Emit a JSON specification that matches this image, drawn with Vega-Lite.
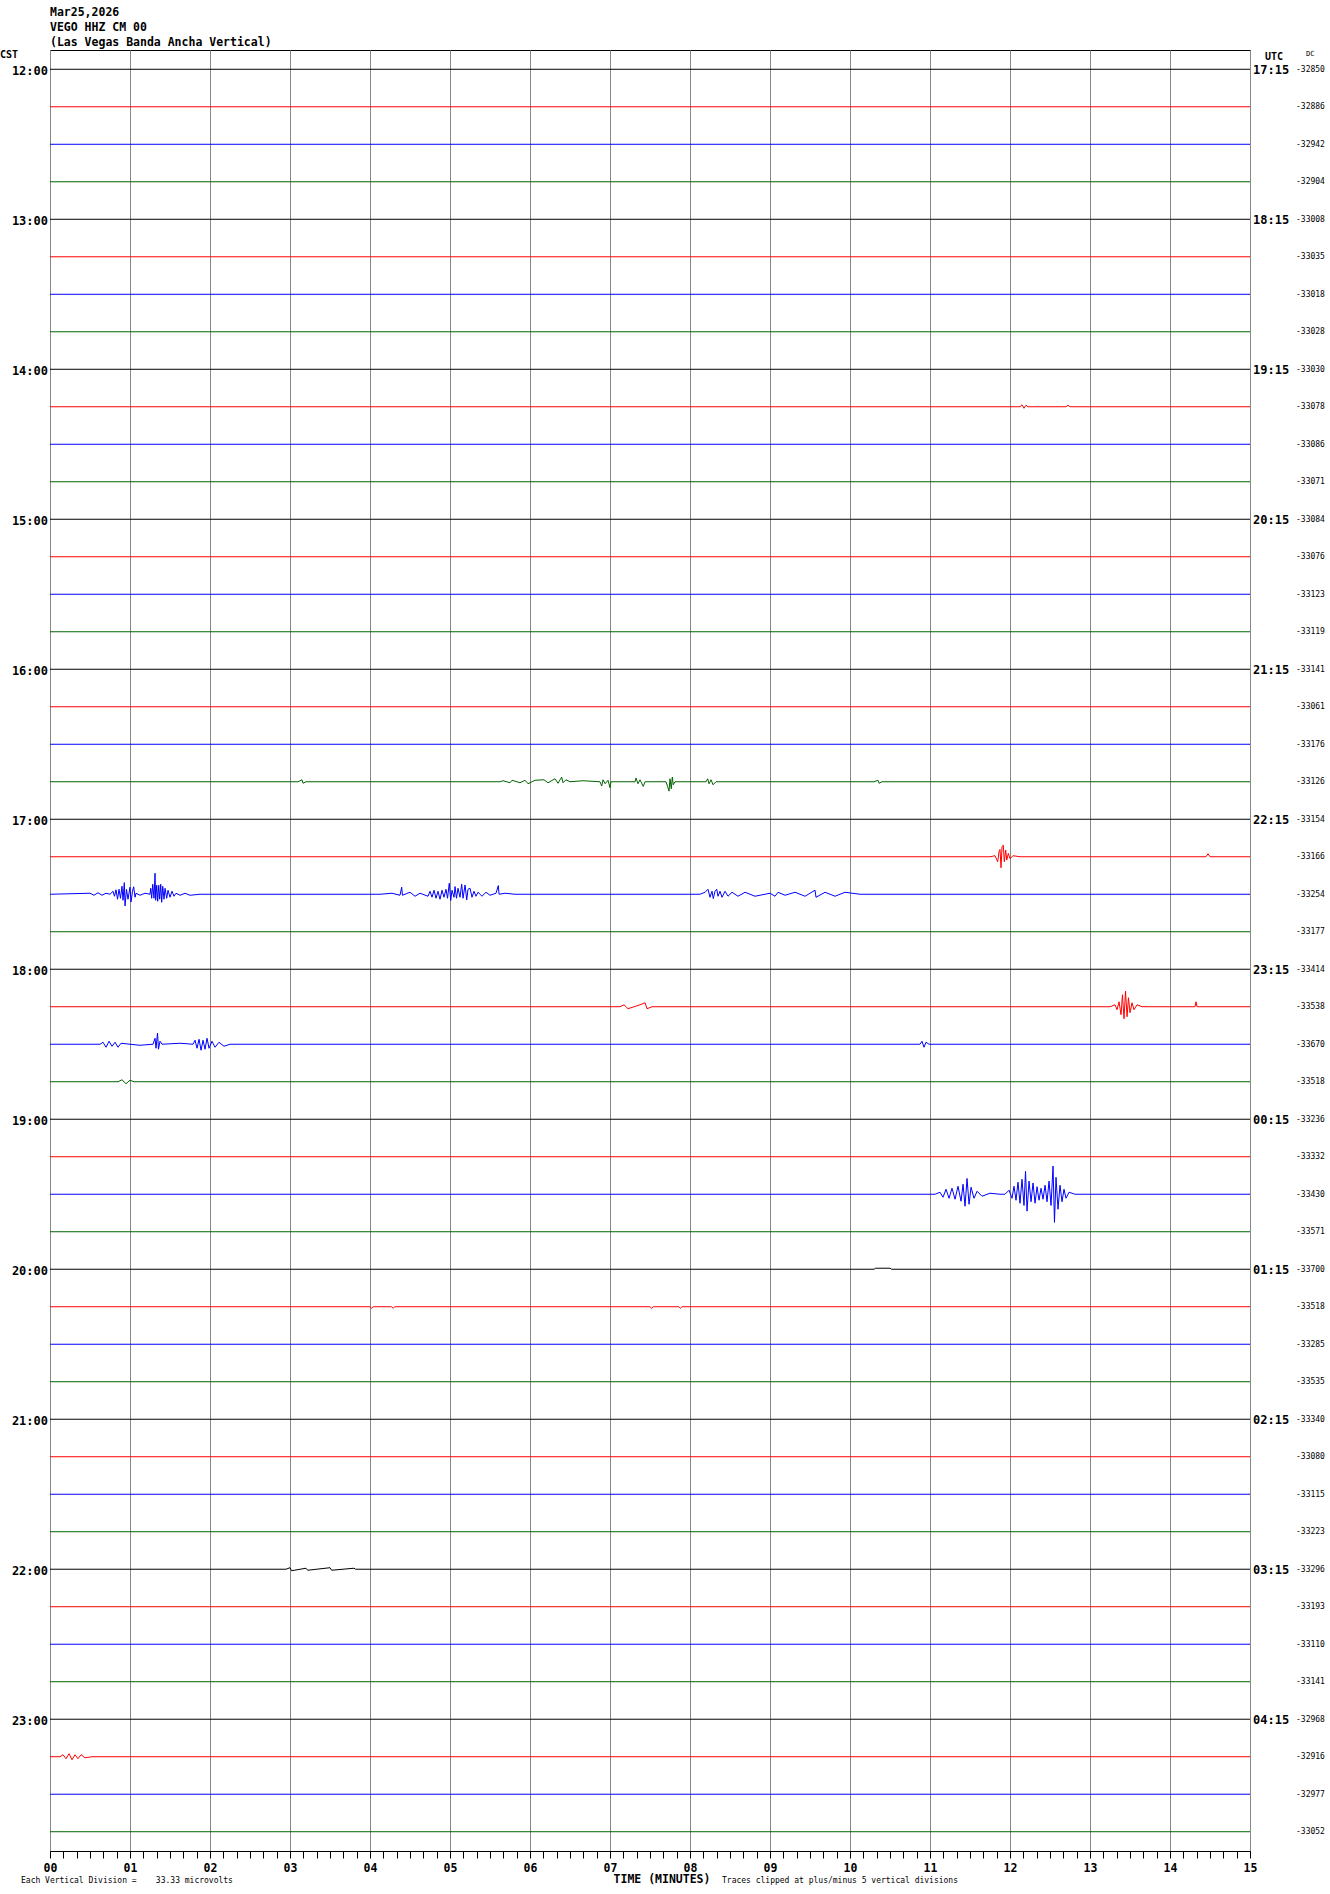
{
"$schema": "https://vega.github.io/schema/vega-lite/v6.json",
"width": 1200, "height": 1801,
"autosize": {"type": "none"},
"padding": {"left": 50, "top": 50, "right": 80, "bottom": 43},
"background": "white",
"config": {"view": {"stroke": "#000000", "strokeWidth": 1}},
"title": {"text": ["Mar25,2026", "VEGO HHZ CM 00", "(Las Vegas Banda Ancha Vertical)"], "anchor": "start", "frame": "group", "font": "DejaVu Sans Mono", "fontSize": 11.5, "fontWeight": "bold", "lineHeight": 15, "color": "#000000", "offset": 2}, 
"datasets": {
"trace": [
{"r":0,"t":[0,15],"a":[0,0]},{"r":1,"t":[0,15],"a":[0,0]},{"r":2,"t":[0,15],"a":[0,0]},{"r":3,"t":[0,15],"a":[0,0]},
{"r":4,"t":[0,15],"a":[0,0]},{"r":5,"t":[0,15],"a":[0,0]},{"r":6,"t":[0,15],"a":[0,0]},{"r":7,"t":[0,15],"a":[0,0]},
{"r":8,"t":[0,15],"a":[0,0]},{"r":9,"t":[0,15],"a":[0,0]},{"r":10,"t":[0,15],"a":[0,0]},{"r":11,"t":[0,15],"a":[0,0]},
{"r":12,"t":[0,15],"a":[0,0]},{"r":13,"t":[0,15],"a":[0,0]},{"r":14,"t":[0,15],"a":[0,0]},{"r":15,"t":[0,15],"a":[0,0]},
{"r":16,"t":[0,15],"a":[0,0]},{"r":17,"t":[0,15],"a":[0,0]},{"r":18,"t":[0,15],"a":[0,0]},{"r":19,"t":[0,15],"a":[0,0]},
{"r":20,"t":[0,15],"a":[0,0]},{"r":21,"t":[0,15],"a":[0,0]},{"r":22,"t":[0,15],"a":[0,0]},{"r":23,"t":[0,15],"a":[0,0]},
{"r":24,"t":[0,15],"a":[0,0]},{"r":25,"t":[0,15],"a":[0,0]},{"r":26,"t":[0,15],"a":[0,0]},{"r":27,"t":[0,15],"a":[0,0]},
{"r":28,"t":[0,15],"a":[0,0]},{"r":29,"t":[0,15],"a":[0,0]},{"r":30,"t":[0,15],"a":[0,0]},{"r":31,"t":[0,15],"a":[0,0]},
{"r":32,"t":[0,15],"a":[0,0]},{"r":33,"t":[0,15],"a":[0,0]},{"r":34,"t":[0,15],"a":[0,0]},{"r":35,"t":[0,15],"a":[0,0]},
{"r":36,"t":[0,15],"a":[0,0]},{"r":37,"t":[0,15],"a":[0,0]},{"r":38,"t":[0,15],"a":[0,0]},{"r":39,"t":[0,15],"a":[0,0]},
{"r":40,"t":[0,15],"a":[0,0]},{"r":41,"t":[0,15],"a":[0,0]},{"r":42,"t":[0,15],"a":[0,0]},{"r":43,"t":[0,15],"a":[0,0]},
{"r":44,"t":[0,15],"a":[0,0]},{"r":45,"t":[0,15],"a":[0,0]},{"r":46,"t":[0,15],"a":[0,0]},{"r":47,"t":[0,15],"a":[0,0]},
{"r":22,"t":[0.5,0.55,0.6,0.65,0.7],"a":[0.027,-0.027,0.04,-0.027,0.027]},
{"r":22,"t":[0.75,0.788,0.806,0.825,0.844,0.863,0.881,0.9,0.913,0.929,0.938,0.956,0.975,1.0,1.013,1.031,1.046,1.063,1.075,1.125,1.188,1.25,1.259,1.271,1.284,1.3,1.313,1.321,1.334,1.346,1.359,1.371,1.384,1.396,1.409,1.425,1.438,1.459,1.475,1.5,1.525,1.55,1.575,1.625,1.688,1.75,1.875],
 "a":[0,0.08,-0.053,0.12,-0.133,0.133,-0.107,0.213,-0.16,0.31,-0.31,0.133,-0.133,0.187,-0.205,0.08,0.2,-0.08,0.027,-0.027,0.027,0,0.16,-0.107,0.267,-0.107,0.56,-0.16,0.24,-0.187,0.24,-0.133,0.267,-0.213,0.213,-0.133,0.16,-0.107,0.107,-0.08,0.08,-0.053,0.027,-0.027,0.027,-0.027,0]},
{"r":22,"t":[4.125,4.275,4.375,4.396,4.406,4.5,4.563,4.625,4.725,4.75,4.775,4.8,4.825,4.85,4.875,4.9,4.925,4.95,4.969,4.991,5.009,5.025,5.05,5.063,5.081,5.1,5.125,5.146,5.163,5.188,5.209,5.225,5.25,5.275,5.3,5.325,5.35,5.4,5.45,5.5,5.575,5.604,5.613,5.688,5.813],
 "a":[0,0.027,-0.027,0.187,-0.027,0.053,-0.053,0.027,-0.053,0.08,-0.08,0.107,-0.107,0.08,-0.133,0.107,-0.08,0.133,-0.107,0.293,-0.168,0.107,-0.08,0.205,-0.107,0.16,-0.08,0.267,-0.107,0.248,-0.152,0.133,0.16,-0.08,0.08,-0.053,0.053,-0.053,0.053,-0.027,0.027,0.232,0,0.027,0]},
{"r":22,"t":[8.125,8.188,8.225,8.25,8.275,8.291,8.313,8.334,8.35,8.375,8.4,8.438,8.475,8.525,8.6,8.688,8.813,9.0,9.063,9.1,9.188,9.313,9.438,9.563,9.575,9.688,9.813,9.938,10.125],
 "a":[0,0.053,0.133,-0.08,0.08,-0.115,0.08,0.133,-0.053,0.08,-0.08,0.08,-0.053,0.053,-0.053,0.053,-0.053,0.027,-0.053,0.053,-0.027,0.053,-0.053,0.107,-0.08,0.053,-0.053,0.053,0]},
{"r":21,"t":[11.75,11.813,11.846,11.863,11.875,11.888,11.9,11.916,11.929,11.946,11.959,11.979,12.0,12.038,12.125],
 "a":[0,0.027,-0.133,0.133,0.195,-0.293,0.267,0.31,-0.133,0.178,-0.089,0.089,-0.053,0.027,0]},
{"r":21,"t":[14.45,14.475,14.5],"a":[0,0.08,0]},
{"r":19,"t":[5.625,5.663,5.75,5.775,5.875,5.938,5.975,6.063,6.175,6.225,6.313,6.35,6.396,6.413,6.45,6.5,6.663,6.875,6.896,6.913,6.938,6.975,7.0,7.013,7.313,7.325,7.35,7.375,7.416,7.438,7.7,7.721,7.738,7.75,7.766,7.779,7.791,7.813,8.2,8.221,8.238,8.263,8.288,8.325],
 "a":[0,0.027,-0.027,0.04,-0.027,0.04,-0.053,0.04,0.053,-0.027,0.08,-0.04,0.125,-0.027,0.053,0,0.027,0,-0.115,0.053,-0.053,0.04,-0.16,0,0,0.1,-0.053,0.053,-0.125,0,0,-0.133,-0.25,0.08,-0.187,0.125,-0.08,0,0,0.08,-0.053,0.053,-0.08,0]},
{"r":19,"t":[3.1,3.15,3.163,3.2],"a":[0,0.053,-0.04,0]},
{"r":19,"t":[10.3,10.35,10.363,10.4],"a":[0,0.04,-0.04,0]},
{"r":25,"t":[13.25,13.313,13.338,13.363,13.388,13.406,13.425,13.444,13.463,13.481,13.5,13.525,13.55,13.588,13.65],
 "a":[0,0.053,-0.08,0.133,-0.213,0.32,-0.32,0.42,-0.267,0.24,-0.16,0.107,-0.08,0.053,0]},
{"r":25,"t":[7.125,7.175,7.225,7.375,7.438,7.463,7.525],"a":[0,0.053,-0.053,0.053,0.107,-0.053,0]},
{"r":25,"t":[14.313,14.325,14.338],"a":[0,0.133,0]},
{"r":26,"t":[0.625,0.663,0.7,0.738,0.775,0.813,0.85,0.888,1.0,1.125,1.288,1.313,1.325,1.344,1.356,1.375,1.4,1.625,1.788,1.813,1.838,1.863,1.888,1.913,1.938,1.963,1.988,2.025,2.063,2.113,2.175,2.25],
 "a":[0,0.053,-0.08,0.08,-0.053,0.053,-0.08,0.027,0,-0.027,0,0.16,-0.107,0.3,-0.133,0.08,0,0.027,0,0.107,-0.107,0.133,-0.16,0.107,-0.133,0.16,-0.107,0.08,-0.08,0.053,-0.053,0]},
{"r":26,"t":[10.875,10.9,10.925,10.95,10.988],"a":[0,0.08,-0.08,0.053,0]},
{"r":30,"t":[11.063,11.125,11.163,11.2,11.238,11.275,11.313,11.35,11.388,11.413,11.438,11.463,11.488,11.513,11.55,11.588,11.65,11.75,11.875],
 "a":[0,0.053,-0.08,0.133,-0.107,0.16,-0.133,0.213,-0.187,0.267,-0.32,0.42,-0.267,0.187,-0.107,0.08,-0.053,0.027,0]},
{"r":30,"t":[11.938,11.988,12.025,12.05,12.075,12.1,12.125,12.15,12.175,12.194,12.213,12.238,12.263,12.288,12.313,12.338,12.363,12.388,12.413,12.438,12.463,12.488,12.513,12.538,12.556,12.575,12.6,12.625,12.65,12.675,12.7,12.738,12.813],
 "a":[0,0.107,-0.107,0.213,-0.16,0.32,-0.24,0.4,-0.3,0.61,-0.45,0.35,-0.2,0.3,-0.24,0.2,-0.16,0.16,-0.133,0.24,-0.2,0.35,-0.3,0.75,-0.75,0.45,-0.4,0.24,-0.2,0.133,-0.107,0.053,0]},
{"r":45,"t":[0.125,0.163,0.2,0.238,0.275,0.313,0.35,0.388,0.438,0.525],"a":[0,0.053,-0.053,0.08,-0.08,0.053,-0.053,0.053,-0.027,0]},
{"r":9,"t":[12.125,12.15,12.175,12.2,12.225,12.3,12.7,12.725,12.75],"a":[0,0.053,-0.04,0.04,0,0,0,0.04,0]},
{"r":33,"t":[4.0,4.02,4.04,4.27,4.29,4.31],"a":[0,-0.04,0,0,-0.04,0]},
{"r":33,"t":[7.5,7.52,7.54,7.86,7.88,7.9],"a":[0,-0.04,0,0,-0.04,0]},
{"r":40,"t":[2.95,3.0,3.02,3.2,3.22,3.5,3.52,3.8,3.82],"a":[0,0.04,-0.04,0.027,-0.027,0.04,-0.027,0.027,0]},
{"r":32,"t":[10.3,10.32,10.5,10.52],"a":[0,0.027,0.027,0]},
{"r":27,"t":[0.85,0.9,0.95,1.0,1.05],"a":[0,0.053,-0.053,0.04,0]}
],
"hours": [
{"r":0,"cst":"12:00","utc":"17:15"},{"r":4,"cst":"13:00","utc":"18:15"},{"r":8,"cst":"14:00","utc":"19:15"},
{"r":12,"cst":"15:00","utc":"20:15"},{"r":16,"cst":"16:00","utc":"21:15"},{"r":20,"cst":"17:00","utc":"22:15"},
{"r":24,"cst":"18:00","utc":"23:15"},{"r":28,"cst":"19:00","utc":"00:15"},{"r":32,"cst":"20:00","utc":"01:15"},
{"r":36,"cst":"21:00","utc":"02:15"},{"r":40,"cst":"22:00","utc":"03:15"},{"r":44,"cst":"23:00","utc":"04:15"}
],
"dc": [
{"r":0,"dc":"-32850"},{"r":1,"dc":"-32886"},{"r":2,"dc":"-32942"},{"r":3,"dc":"-32904"},
{"r":4,"dc":"-33008"},{"r":5,"dc":"-33035"},{"r":6,"dc":"-33018"},{"r":7,"dc":"-33028"},
{"r":8,"dc":"-33030"},{"r":9,"dc":"-33078"},{"r":10,"dc":"-33086"},{"r":11,"dc":"-33071"},
{"r":12,"dc":"-33084"},{"r":13,"dc":"-33076"},{"r":14,"dc":"-33123"},{"r":15,"dc":"-33119"},
{"r":16,"dc":"-33141"},{"r":17,"dc":"-33061"},{"r":18,"dc":"-33176"},{"r":19,"dc":"-33126"},
{"r":20,"dc":"-33154"},{"r":21,"dc":"-33166"},{"r":22,"dc":"-33254"},{"r":23,"dc":"-33177"},
{"r":24,"dc":"-33414"},{"r":25,"dc":"-33538"},{"r":26,"dc":"-33670"},{"r":27,"dc":"-33518"},
{"r":28,"dc":"-33236"},{"r":29,"dc":"-33332"},{"r":30,"dc":"-33430"},{"r":31,"dc":"-33571"},
{"r":32,"dc":"-33700"},{"r":33,"dc":"-33518"},{"r":34,"dc":"-33285"},{"r":35,"dc":"-33535"},
{"r":36,"dc":"-33340"},{"r":37,"dc":"-33080"},{"r":38,"dc":"-33115"},{"r":39,"dc":"-33223"},
{"r":40,"dc":"-33296"},{"r":41,"dc":"-33193"},{"r":42,"dc":"-33110"},{"r":43,"dc":"-33141"},
{"r":44,"dc":"-32968"},{"r":45,"dc":"-32916"},{"r":46,"dc":"-32977"},{"r":47,"dc":"-33052"}
]
},
"layer": [
{
"data": {"name": "trace"},
"transform": [{"flatten": ["t", "a"]}, {"calculate": "datum.r - datum.a", "as": "yv"}],
"mark": {"type": "line", "strokeWidth": 1, "interpolate": "linear"},
"encoding": {
"x": {"field": "t", "type": "quantitative", "scale": {"domain": [0, 15], "nice": false, "zero": false},
 "axis": {"values": [0,0.16667,0.33333,0.5,0.66667,0.83333,1,1.16667,1.33333,1.5,1.66667,1.83333,2,2.16667,2.33333,2.5,2.66667,2.83333,3,3.16667,3.33333,3.5,3.66667,3.83333,4,4.16667,4.33333,4.5,4.66667,4.83333,5,5.16667,5.33333,5.5,5.66667,5.83333,6,6.16667,6.33333,6.5,6.66667,6.83333,7,7.16667,7.33333,7.5,7.66667,7.83333,8,8.16667,8.33333,8.5,8.66667,8.83333,9,9.16667,9.33333,9.5,9.66667,9.83333,10,10.16667,10.33333,10.5,10.66667,10.83333,11,11.16667,11.33333,11.5,11.66667,11.83333,12,12.16667,12.33333,12.5,12.66667,12.83333,13,13.16667,13.33333,13.5,13.66667,13.83333,14,14.16667,14.33333,14.5,14.66667,14.83333,15],
  "tickCount": 200,
  "grid": true, "gridColor": "#888888", "gridWidth": 1,
  "gridOpacity": {"condition": {"test": "datum.value % 1 === 0", "value": 1}, "value": 0},
  "labelExpr": "datum.value % 1 === 0 ? (datum.value < 10 ? '0' + datum.value : '' + datum.value) : ''",
  "labelOverlap": false, "labelFlush": false, "labelBound": false,
  "ticks": true, "tickSize": 7, "tickColor": "#000000", "tickWidth": 1,
  "domain": true, "domainColor": "#000000", "domainWidth": 1,
  "labelFont": "DejaVu Sans Mono", "labelFontWeight": "bold", "labelFontSize": 11.5, "labelColor": "#000000", "labelPadding": 4,
  "title": null}},
"y": {"field": "yv", "type": "quantitative", "scale": {"domain": [-0.514, 47.514], "reverse": true, "nice": false, "zero": false}, "axis": null},
"color": {"field": "r", "type": "ordinal", "scale": {"range": ["#000000", "#ff0000", "#0000ff", "#006400"]}, "legend": null},
"detail": {"field": "r"}
}
},
{
"data": {"name": "hours"},
"mark": {"type": "text", "align": "right", "baseline": "middle", "dx": -2, "dy": 1.5, "font": "DejaVu Sans Mono", "fontWeight": "bold", "fontSize": 12, "color": "#000000"},
"encoding": {
"x": {"datum": 0, "type": "quantitative", "scale": {"domain": [0, 15], "nice": false, "zero": false}},
"y": {"field": "r", "type": "quantitative", "scale": {"domain": [-0.514, 47.514], "reverse": true, "nice": false, "zero": false}, "axis": null},
"text": {"field": "cst", "type": "nominal"}
}
},
{
"data": {"name": "hours"},
"mark": {"type": "text", "align": "left", "baseline": "middle", "dx": 3, "dy": 1, "font": "DejaVu Sans Mono", "fontWeight": "bold", "fontSize": 12, "color": "#000000"},
"encoding": {
"x": {"datum": 15, "type": "quantitative", "scale": {"domain": [0, 15], "nice": false, "zero": false}},
"y": {"field": "r", "type": "quantitative", "scale": {"domain": [-0.514, 47.514], "reverse": true, "nice": false, "zero": false}, "axis": null},
"text": {"field": "utc", "type": "nominal"}
}
},
{
"data": {"name": "dc"},
"mark": {"type": "text", "align": "left", "baseline": "middle", "dx": 46, "dy": 0.5, "font": "DejaVu Sans Mono", "fontSize": 8, "color": "#000000"},
"encoding": {
"x": {"datum": 15, "type": "quantitative", "scale": {"domain": [0, 15], "nice": false, "zero": false}},
"y": {"field": "r", "type": "quantitative", "scale": {"domain": [-0.514, 47.514], "reverse": true, "nice": false, "zero": false}, "axis": null},
"text": {"field": "dc", "type": "nominal"}
}
},
{
"data": {"values": [{"s": "CST"}]},
"mark": {"type": "text", "align": "left", "baseline": "middle", "dx": -50, "dy": 5, "font": "DejaVu Sans Mono", "fontWeight": "bold", "fontSize": 10, "color": "#000000"},
"encoding": {
"x": {"datum": 0, "type": "quantitative", "scale": {"domain": [0, 15], "nice": false, "zero": false}},
"y": {"datum": -0.514, "type": "quantitative", "scale": {"domain": [-0.514, 47.514], "reverse": true, "nice": false, "zero": false}, "axis": null},
"text": {"field": "s", "type": "nominal"}
}
},
{
"data": {"values": [{"s": "UTC"}]},
"mark": {"type": "text", "align": "left", "baseline": "middle", "dx": 15, "dy": 7, "font": "DejaVu Sans Mono", "fontWeight": "bold", "fontSize": 10, "color": "#000000"},
"encoding": {
"x": {"datum": 15, "type": "quantitative", "scale": {"domain": [0, 15], "nice": false, "zero": false}},
"y": {"datum": -0.514, "type": "quantitative", "scale": {"domain": [-0.514, 47.514], "reverse": true, "nice": false, "zero": false}, "axis": null},
"text": {"field": "s", "type": "nominal"}
}
},
{
"data": {"values": [{"s": "DC"}]},
"mark": {"type": "text", "align": "left", "baseline": "middle", "dx": 56, "dy": 4, "font": "DejaVu Sans Mono", "fontSize": 7, "color": "#000000"},
"encoding": {
"x": {"datum": 15, "type": "quantitative", "scale": {"domain": [0, 15], "nice": false, "zero": false}},
"y": {"datum": -0.514, "type": "quantitative", "scale": {"domain": [-0.514, 47.514], "reverse": true, "nice": false, "zero": false}, "axis": null},
"text": {"field": "s", "type": "nominal"}
}
},
{
"data": {"values": [{"s": "Each Vertical Division =\u00a0\u00a0\u00a0\u00a033.33 microvolts"}]},
"mark": {"type": "text", "align": "left", "baseline": "middle", "dx": -29, "dy": 30, "font": "DejaVu Sans Mono", "fontSize": 8, "color": "#000000"},
"encoding": {
"x": {"datum": 0, "type": "quantitative", "scale": {"domain": [0, 15], "nice": false, "zero": false}},
"y": {"datum": 47.514, "type": "quantitative", "scale": {"domain": [-0.514, 47.514], "reverse": true, "nice": false, "zero": false}, "axis": null},
"text": {"field": "s", "type": "nominal"}
}
},
{
"data": {"values": [{"s": "TIME (MINUTES)"}]},
"mark": {"type": "text", "align": "center", "baseline": "middle", "dy": 29, "font": "DejaVu Sans Mono", "fontWeight": "bold", "fontSize": 11.5, "color": "#000000"},
"encoding": {
"x": {"datum": 7.65, "type": "quantitative", "scale": {"domain": [0, 15], "nice": false, "zero": false}},
"y": {"datum": 47.514, "type": "quantitative", "scale": {"domain": [-0.514, 47.514], "reverse": true, "nice": false, "zero": false}, "axis": null},
"text": {"field": "s", "type": "nominal"}
}
},
{
"data": {"values": [{"s": "Traces clipped at plus/minus 5 vertical divisions"}]},
"mark": {"type": "text", "align": "left", "baseline": "middle", "dy": 30, "font": "DejaVu Sans Mono", "fontSize": 8, "color": "#000000"},
"encoding": {
"x": {"datum": 8.4, "type": "quantitative", "scale": {"domain": [0, 15], "nice": false, "zero": false}},
"y": {"datum": 47.514, "type": "quantitative", "scale": {"domain": [-0.514, 47.514], "reverse": true, "nice": false, "zero": false}, "axis": null},
"text": {"field": "s", "type": "nominal"}
}
}
]
}
